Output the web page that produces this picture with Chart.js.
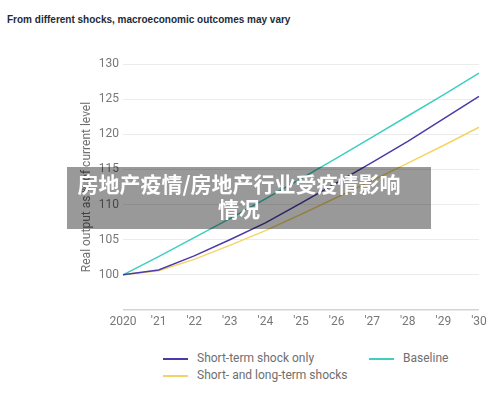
<!DOCTYPE html>
<html>
<head>
<meta charset="utf-8">
<script src="https://cdn.jsdelivr.net/npm/chart.js@4/dist/chart.umd.min.js"></script>
<style>
  body { margin: 0; background: #fff; font-family: Roboto, "Noto Sans", sans-serif; }
  #wrap { position: relative; width: 500px; height: 397px; overflow: hidden; }
  #title { position: absolute; left: 7px; top: 14px; font: bold 10px "Liberation Sans", Arial, sans-serif; color: #1c2b39; }
  .chart { position: absolute; left: 0; top: 0; width: 500px; height: 345px; }
  #legend { position: absolute; left: 163px; top: 350px; width: 330px; font-size: 12px; color: #6f6f6f; }
  .item { position: absolute; white-space: nowrap; }
  .item span.sw { position: absolute; left: 0; top: 8px; width: 25px; height: 2px; }
  .item span.tx { position: absolute; left: 34px; top: 0; line-height: 17px; }
  #mark { position: absolute; left: 67px; top: 167px; width: 364px; height: 62px; background: rgba(0,0,0,0.4); }
  #marktext { position: absolute; left: 66px; top: 171px; width: 346px; text-align: center;
    font: bold 21px "Noto Sans CJK SC", sans-serif; line-height: 25px; color: #fff; }
</style>
</head>
<body>
<div id="wrap">
  <div id="title">From different shocks, macroeconomic outcomes may vary</div>
  <div class="chart"><canvas id="c" width="500" height="345"></canvas></div>
  <div id="legend"></div>
  <div id="mark"></div>
  <div id="marktext">房地产疫情/房地产行业受疫情影响<br>情况</div>
</div>
<script>
// данные
const years = ['2020', "'21", "'22", "'23", "'24", "'25", "'26", "'27", "'28", "'29", "'30"];
const shortTerm = [100, 100.7, 102.7, 105.0, 107.4, 110.2, 113.1, 116.0, 119.0, 122.2, 125.4];
const baseline = [100, 102.6, 105.3, 108.0, 110.8, 113.7, 116.6, 119.6, 122.6, 125.6, 128.7];
const shortLong = [100, 100.6, 102.2, 104.2, 106.3, 108.6, 111.0, 113.4, 115.9, 118.4, 121.0];
const yTicks = [95, 100, 105, 110, 115, 120, 125, 130];

const datasets = [
  { label: 'Short-term shock only', data: shortTerm, borderColor: '#4b3ba7' },
  { label: 'Baseline', data: baseline, borderColor: '#3ecfc1' },
  { label: 'Short- and long-term shocks', data: shortLong, borderColor: '#f5d466' }
].map(d => Object.assign(d, { borderWidth: 1.5, pointRadius: 0, tension: 0, fill: false }));

const tickFont = { family: 'Roboto', size: 12 };

const chart = new Chart(document.getElementById('c'), {
  type: 'line',
  data: { labels: years, datasets: datasets },
  options: {
    responsive: false,
    animation: false,
    layout: { padding: { left: 80, right: 21, top: 64, bottom: 10 } },
    plugins: { legend: { display: false }, tooltip: { enabled: false } },
    scales: {
      x: {
        grid: { display: false, drawTicks: false },
        border: { display: false },
        ticks: { color: '#777', font: tickFont, padding: 5, maxRotation: 0, autoSkip: false },
        afterFit: s => { s.height = 25; }
      },
      y: {
        min: 95, max: 130,
        afterBuildTicks: s => { s.ticks = yTicks.map(v => ({ value: v })); },
        grid: {
          drawTicks: false,
          color: ctx => ctx.tick && ctx.tick.value === 95 ? '#d4d4d4' : '#ececec',
          lineWidth: ctx => ctx.tick && ctx.tick.value === 95 ? 1.5 : 1
        },
        border: { display: false },
        ticks: {
          color: '#777', font: tickFont, padding: 4,
          callback: v => v === 95 ? '' : v
        },
        title: {
          display: true, text: 'Real output as % of current level',
          color: '#6f6f6f', font: { family: 'Roboto', size: 12 }, padding: 0
        },
        afterFit: s => { s.width = 43; }
      }
    }
  }
});

// легенда
const legendPos = [[0, 0], [206, 0], [0, 17]];
const legend = document.getElementById('legend');
chart.data.datasets.forEach((d, i) => {
  const el = document.createElement('div');
  el.className = 'item';
  el.style.left = legendPos[i][0] + 'px';
  el.style.top = legendPos[i][1] + 'px';
  el.innerHTML = `<span class="sw" style="background:${d.borderColor}"></span><span class="tx">${d.label}</span>`;
  legend.appendChild(el);
});
</script>
</body>
</html>
